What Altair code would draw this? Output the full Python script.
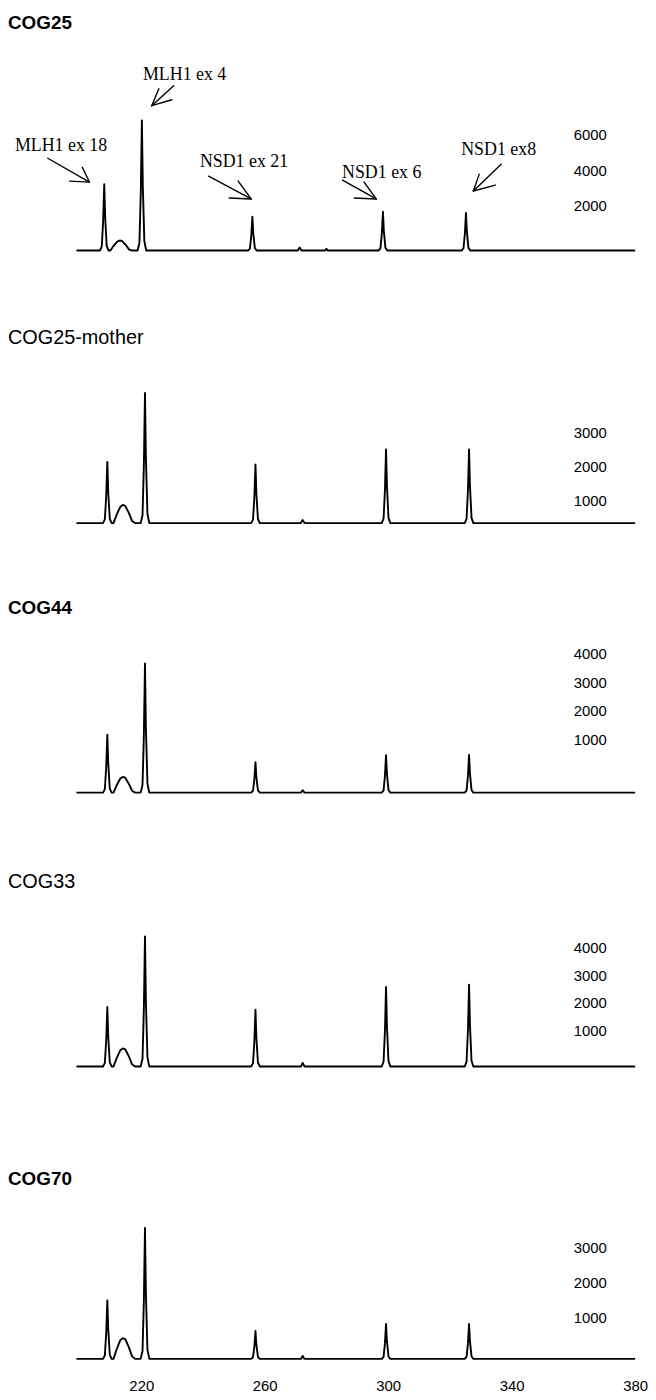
import altair as alt
import pandas as pd

# ---------------- data ----------------
X_DOMAIN = [176.82, 380.0]
X_TICKS = [220, 260, 300, 340, 380]

# fragment size (bp) of each trace vertex
X_TOP = [199.0,
         206.6, 207.2, 207.65, 208.0, 208.3, 208.8, 209.4,
         210.0, 211.0, 212.2, 213.0, 213.8, 215.0, 216.0, 217.0,
         218.8, 219.4, 219.85, 220.2, 220.5, 221.0, 221.6,
         254.6, 255.2, 255.65, 256.0, 256.3, 256.8, 257.4,
         270.7, 271.3, 271.9,
         279.6, 280.0, 280.4,
         296.9, 297.5, 297.95, 298.3, 298.6, 299.1, 299.7,
         323.8, 324.4, 324.85, 325.2, 325.5, 326.0, 326.6,
         380.0]

X_LOWER = [199.0,
           207.6, 208.2, 208.65, 209.0, 209.3, 209.8, 210.4,
           211.0, 212.0, 213.2, 214.0, 214.8, 216.0, 217.0, 218.0,
           219.8, 220.4, 220.85, 221.2, 221.5, 222.0, 222.6,
           255.6, 256.2, 256.65, 257.0, 257.3, 257.8, 258.4,
           271.7, 272.3, 272.9,
           280.1, 280.5, 280.9,
           297.9, 298.5, 298.95, 299.3, 299.6, 300.1, 300.7,
           324.8, 325.4, 325.85, 326.2, 326.5, 327.0, 327.6,
           380.0]

# fluorescence (RFU) at each vertex
Y_COG25 = [0,
           0, 223, 1674, 3720, 1860, 260, 0,
           0, 252, 504, 560, 532, 308, 67, 0,
           0, 437, 3276, 7280, 3640, 510, 0,
           0, 113, 851, 1890, 945, 132, 0,
           0, 170, 0,
           0, 100, 0,
           0, 130, 977, 2170, 1085, 152, 0,
           0, 127, 950, 2110, 1055, 148, 0,
           0]

Y_MOTHER = [0,
            0, 107, 806, 1790, 895, 125, 0,
            0, 239, 477, 530, 504, 292, 64, 0,
            0, 228, 1710, 3800, 1900, 266, 0,
            0, 103, 770, 1710, 855, 120, 0,
            0, 90, 0,
            0, 0, 0,
            0, 129, 968, 2150, 1075, 151, 0,
            0, 129, 968, 2150, 1075, 151, 0,
            0]

Y_COG44 = [0,
           0, 122, 916, 2035, 1018, 142, 0,
           0, 248, 495, 550, 523, 303, 66, 0,
           0, 272, 2041, 4535, 2268, 317, 0,
           0, 64, 482, 1070, 535, 75, 0,
           0, 80, 0,
           0, 0, 0,
           0, 79, 590, 1310, 655, 92, 0,
           0, 80, 596, 1325, 663, 93, 0,
           0]

Y_COG33 = [0,
           0, 128, 963, 2140, 1070, 150, 0,
           0, 293, 585, 650, 618, 358, 78, 0,
           0, 281, 2106, 4680, 2340, 328, 0,
           0, 122, 918, 2040, 1020, 143, 0,
           0, 130, 0,
           0, 0, 0,
           0, 172, 1287, 2860, 1430, 200, 0,
           0, 176, 1323, 2940, 1470, 206, 0,
           0]

Y_COG70 = [0,
           0, 100, 747, 1660, 830, 116, 0,
           0, 266, 531, 590, 561, 325, 71, 0,
           0, 223, 1674, 3720, 1860, 260, 0,
           0, 47, 356, 790, 395, 55, 0,
           0, 85, 0,
           0, 0, 0,
           0, 59, 446, 990, 495, 69, 0,
           0, 59, 446, 990, 495, 69, 0,
           0]

PANEL_NAMES = ["COG25", "COG25-mother", "COG44", "COG33", "COG70"]
PANEL_BOLD = [True, False, True, False, True]
PANEL_TICKS = [[2000, 4000, 6000], [1000, 2000, 3000], [1000, 2000, 3000, 4000],
               [1000, 2000, 3000, 4000], [1000, 2000, 3000]]

# annotations of the first panel
ANN_TEXT = ["MLH1 ex 18", "MLH1 ex 4", "NSD1 ex 21", "NSD1 ex 6", "NSD1 ex8"]
ANN_X = [194.0, 234.05, 253.3, 297.9, 335.8]
ANN_Y = [5833, 9833, 4944, 4333, 5611]

SEG_X1 = [189.7, 203.2, 203.2, 230.5, 223.4, 223.4, 241.8, 255.6, 255.6,
          285.2, 296.1, 296.1, 336.6, 327.6, 327.6]
SEG_Y1 = [5167, 3833, 3833, 9222, 8111, 8111, 4167, 2889, 2889,
          3944, 2889, 2889, 4833, 3333, 3333]
SEG_X2 = [203.2, 196.8, 200.9, 223.4, 229.9, 225.7, 255.6, 248.5, 251.4,
          296.1, 289.0, 292.2, 327.6, 334.7, 329.5]
SEG_Y2 = [3833, 3889, 4667, 8111, 8444, 9056, 2889, 2944, 3889,
          2889, 2944, 3833, 3333, 3667, 4278]

# ---------------- layout (styles) ----------------
PLOT_W = 632
Y_DOMAINS = [[-4333, 11222], [-2212, 4687], [-2777, 5585], [-3739, 5761], [0, 4366]]
HEIGHTS = [280, 238, 240, 266, 155]
LABEL_OFFSETS = [-9, 12, -25, -8, -6]
TITLE_OFFSETS = [17, 15, 16, 15, 16]
TITLE_SIZES = [19, 20, 19, 20, 19]

SANS = "Liberation Sans"
SERIF = "Liberation Serif"

xs = [X_TOP, X_LOWER, X_LOWER, X_LOWER, X_LOWER]
ys = [Y_COG25, Y_MOTHER, Y_COG44, Y_COG33, Y_COG70]

charts = []
for i in range(5):
    last = i == 4
    x_scale = alt.Scale(domain=X_DOMAIN, nice=False, zero=False)
    y_scale = alt.Scale(domain=Y_DOMAINS[i], nice=False, zero=False)
    if last:
        x_axis = alt.Axis(values=X_TICKS, domain=False, ticks=False, tickSize=0, grid=False,
                          labelPadding=20, labelFontSize=15, labelFont=SANS,
                          labelColor="black", labelOverlap=False, labelFlush=False,
                          labelBound=False, title=None, format="d")
    else:
        x_axis = None
    y_axis = alt.Axis(orient="right", values=PANEL_TICKS[i], offset=-29, labelAlign="right",
                      domain=False, ticks=False, tickSize=0, grid=False, labelPadding=0,
                      labelOffset=LABEL_OFFSETS[i], labelFontSize=15, labelFont=SANS,
                      labelColor="black", labelOverlap=False, labelFlush=False,
                      labelBound=False, title=None, format="d")

    df = pd.DataFrame({"size": xs[i], "rfu": ys[i]})
    trace = alt.Chart(df).mark_line(color="black", strokeWidth=1.9,
                                    strokeJoin="round").encode(
        x=alt.X("size:Q", scale=x_scale, axis=x_axis),
        y=alt.Y("rfu:Q", scale=y_scale, axis=y_axis),
        order=alt.Order("size:Q"),
    )
    layers = [trace]
    if i == 0:
        seg_df = pd.DataFrame({"x1": SEG_X1, "y1": SEG_Y1, "x2": SEG_X2, "y2": SEG_Y2})
        arrows = alt.Chart(seg_df).mark_rule(color="black", strokeWidth=1.4,
                                             strokeCap="round").encode(
            x=alt.X("x1:Q", scale=x_scale, axis=x_axis),
            y=alt.Y("y1:Q", scale=y_scale, axis=y_axis),
            x2="x2:Q", y2="y2:Q",
        )
        ann_df = pd.DataFrame({"label": ANN_TEXT, "x": ANN_X, "y": ANN_Y})
        texts = alt.Chart(ann_df).mark_text(font=SERIF, fontSize=18, color="black",
                                            align="center", baseline="middle").encode(
            x=alt.X("x:Q", scale=x_scale, axis=x_axis),
            y=alt.Y("y:Q", scale=y_scale, axis=y_axis),
            text="label:N",
        )
        layers += [arrows, texts]

    title = alt.TitleParams(text=PANEL_NAMES[i], anchor="start", frame="group",
                            font=SANS, fontSize=TITLE_SIZES[i],
                            fontWeight="bold" if PANEL_BOLD[i] else "normal",
                            color="black", offset=TITLE_OFFSETS[i])
    charts.append(alt.layer(*layers).properties(width=PLOT_W, height=HEIGHTS[i],
                                                 title=title))

chart = alt.vconcat(*charts, spacing=0).properties(
    padding={"top": 1, "left": 0, "right": 0, "bottom": 0}
).configure_view(stroke=None)

chart.save("out.html", embed_options={"renderer": "svg", "actions": False})
